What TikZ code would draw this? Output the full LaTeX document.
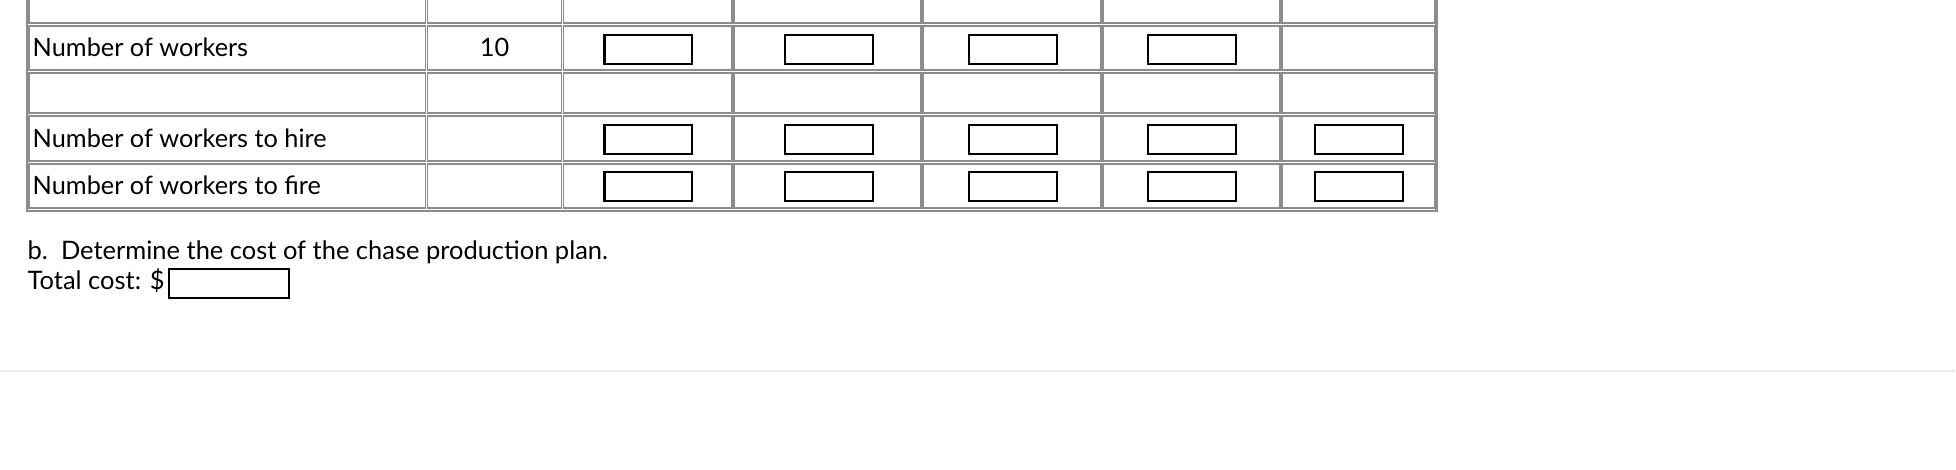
\documentclass[tikz,border=0pt]{standalone}
\usepackage{fontspec}
\setmainfont{Lato}
\begin{document}
\begin{tikzpicture}[x=0.01cm,y=-0.01cm,
 cell/.style={draw=black!45,line width=0.5pt},
 inbox/.style={draw=black,line width=0.6pt,minimum width=0.88cm,minimum height=0.29cm,inner sep=0pt,anchor=north west},
 lbl/.style={anchor=west,inner sep=0pt,font=\fontsize{7.2}{9}\selectfont},
 big/.style={anchor=west,inner sep=0pt,font=\fontsize{7.25}{10}\selectfont}]
\fill[white] (0,0) rectangle (1956,470);
\begin{scope}
\clip (0,0) rectangle (1956,470);
\draw[draw=black!45,line width=0.6pt] (26,-5) -- (26,211) -- (1437,211) -- (1437,-5);
\foreach \xa/\xb [count=\c] in {28/425,427/561,563/732,734/921,923/1101,1103/1280,1282/1435}{
 \foreach \ya/\yb [count=\r] in {-5/23,26/70,73/113,116/161,164/208}{
  \draw[cell] (\xa,\ya) rectangle (\xb,\yb);
 }}
\end{scope}
\foreach \xa [count=\c] in {603,784,968,1147}{
 \node[inbox] (w\c) at (\xa,34) {};}
\foreach \xa [count=\c] in {603,784,968,1147,1314}{
 \node[inbox] (h\c) at (\xa,124) {};
 \node[inbox] (f\c) at (\xa,171) {};}
\node[lbl] (t1) at (31,47) {Number of workers};
\node[lbl,anchor=center] (t2) at (494,47) {10};
\node[lbl] (t3) at (31,138) {Number of workers to hire};
\node[lbl] (t4) at (31,185) {Number of workers to fire};
\node[big] (b1) at (26,253) {b.\ \ Determine the cost of the chase production plan.};
\node[big] (b2) at (26,281) {Total cost: \$};
\node[inbox,minimum width=1.2cm] (tc) at (167,268) {};
\draw[black!8,line width=0.6pt] (0,371) -- (1956,371);
\useasboundingbox (0,0) rectangle (1956,470);
\end{tikzpicture}
\end{document}
